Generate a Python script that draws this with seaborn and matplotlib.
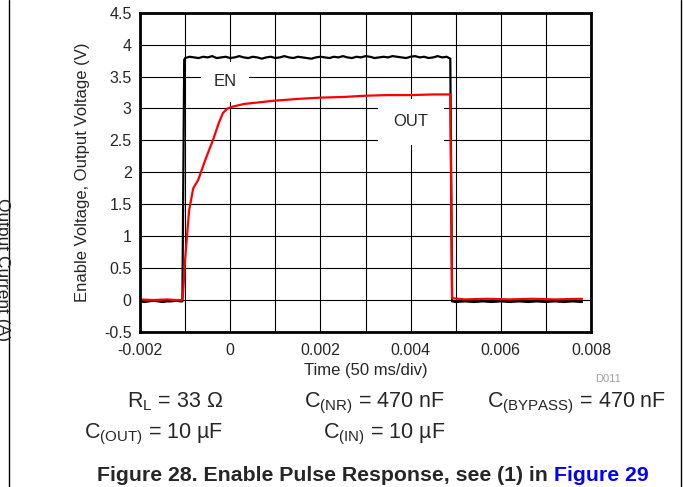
import numpy as np
import pandas as pd
import matplotlib.pyplot as plt
import seaborn as sns
from matplotlib.lines import Line2D

# -----------------------------
# Data
# -----------------------------

# EN pulse, volts
en_time = [-0.0020, -0.0019, -0.0018, -0.0017, -0.0016, -0.0015, -0.0014, -0.0013, -0.0012, -0.0011,
           -0.00106, -0.00102,
           -0.0010, -0.0009, -0.0008, -0.0007, -0.0006, -0.0005, -0.0004, -0.0003, -0.0002, -0.0001,
           0.0000, 0.0001, 0.0002, 0.0003, 0.0004, 0.0005, 0.0006, 0.0007, 0.0008, 0.0009,
           0.0010, 0.0011, 0.0012, 0.0013, 0.0014, 0.0015, 0.0016, 0.0017, 0.0018, 0.0019,
           0.0020, 0.0021, 0.0022, 0.0023, 0.0024, 0.0025, 0.0026, 0.0027, 0.0028, 0.0029,
           0.0030, 0.0031, 0.0032, 0.0033, 0.0034, 0.0035, 0.0036, 0.0037, 0.0038, 0.0039,
           0.0040, 0.0041, 0.0042, 0.0043, 0.0044, 0.0045, 0.0046, 0.0047, 0.0048,
           0.00488, 0.00492,
           0.0050, 0.0052, 0.0054, 0.0056, 0.0058, 0.0060, 0.0062, 0.0064, 0.0066, 0.0068,
           0.0070, 0.0072, 0.0074, 0.0076, 0.0078]
en_volt = [-0.02, -0.03, -0.02, -0.01, -0.02, -0.03, -0.02, -0.02, -0.01, -0.02,
           -0.02, 3.76,
           3.79, 3.81, 3.80, 3.79, 3.81, 3.80, 3.82, 3.79, 3.80, 3.81,
           3.79, 3.80, 3.82, 3.80, 3.79, 3.81, 3.80, 3.78, 3.80, 3.81,
           3.79, 3.80, 3.82, 3.80, 3.79, 3.81, 3.80, 3.79, 3.78, 3.80,
           3.81, 3.80, 3.79, 3.81, 3.80, 3.82, 3.80, 3.79, 3.81, 3.80,
           3.82, 3.81, 3.79, 3.80, 3.81, 3.80, 3.82, 3.81, 3.80, 3.79,
           3.81, 3.82, 3.80, 3.81, 3.79, 3.80, 3.82, 3.80, 3.81,
           3.78, -0.02,
           -0.03, -0.02, -0.03, -0.02, -0.03, -0.02, -0.03, -0.02, -0.03, -0.02,
           -0.03, -0.02, -0.03, -0.02, -0.03]

# OUT, volts
out_time = [-0.0020, -0.0017, -0.0014, -0.00120, -0.00107, -0.00105, -0.00100, -0.00096,
            -0.00091, -0.00082, -0.00071, -0.00055, -0.00038, -0.00025, -0.00016, -0.00006,
            0.00006, 0.0003, 0.00095, 0.0015, 0.0020, 0.0025, 0.0030, 0.0035, 0.0040,
            0.0045, 0.00488, 0.00492, 0.0052, 0.0057, 0.0062, 0.0067, 0.0072, 0.0078]
out_volt = [0.01, 0.0, 0.01, 0.0, 0.0, 0.05, 0.63, 0.99,
            1.41, 1.75, 1.88, 2.20, 2.51, 2.78, 2.93, 3.00,
            3.03, 3.07, 3.12, 3.15, 3.17, 3.18, 3.20, 3.21, 3.21,
            3.22, 3.22, 0.03, 0.01, 0.02, 0.01, 0.02, 0.01, 0.02]

x_ticks = [-0.002, 0, 0.002, 0.004, 0.006, 0.008]
x_tick_labels = ["-0.002", "0", "0.002", "0.004", "0.006", "0.008"]
x_grid = [-0.002, -0.001, 0, 0.001, 0.002, 0.003, 0.004, 0.005, 0.006, 0.007, 0.008]
y_ticks = [-0.5, 0, 0.5, 1, 1.5, 2, 2.5, 3, 3.5, 4, 4.5]
y_tick_labels = ["-0.5", "0", "0.5", "1", "1.5", "2", "2.5", "3", "3.5", "4", "4.5"]

en_df = pd.DataFrame({"Time": en_time, "Voltage": en_volt})
out_df = pd.DataFrame({"Time": out_time, "Voltage": out_volt})

# -----------------------------
# Plot
# -----------------------------
sns.set_style("white")
plt.rcParams["font.family"] = ["Liberation Sans", "DejaVu Sans"]
plt.rcParams["mathtext.fontset"] = "custom"
plt.rcParams["mathtext.rm"] = "Liberation Sans"
plt.rcParams["mathtext.it"] = "Liberation Sans:italic"

fig = plt.figure(figsize=(6.83, 4.87), dpi=100)
ax = fig.add_axes([140 / 683, 1 - 332 / 487, 451 / 683, 319.3 / 487])

sns.lineplot(data=en_df, x="Time", y="Voltage", ax=ax, color="black",
             linewidth=1.6, sort=False, estimator=None, zorder=3)
sns.lineplot(data=out_df, x="Time", y="Voltage", ax=ax, color="#ff0000",
             linewidth=1.6, sort=False, estimator=None, zorder=4)

ax.set_xlim(-0.002, 0.008)
ax.set_ylim(-0.5, 4.5)
ax.set_xticks(x_ticks)
ax.set_xticklabels(x_tick_labels)
ax.set_xticks(x_grid, minor=True)
ax.set_yticks(y_ticks)
ax.set_yticklabels(y_tick_labels)
ax.grid(True, which="both", color="black", linewidth=0.8, zorder=0)
ax.set_axisbelow(True)
ax.tick_params(which="both", length=0, labelsize=11.5)
ax.tick_params(axis="x", pad=8)
ax.tick_params(axis="y", pad=6)
for sp in ax.spines.values():
    sp.set_linewidth(2.0)
    sp.set_color("black")
    sp.set_zorder(5)

ax.set_xlabel("Time (50 ms/div)", fontsize=12)
ax.xaxis.set_label_coords(0.5, -(370 - 332) / 319.3)
ax.xaxis.label.set_va("center")
ax.set_ylabel("Enable Voltage, Output Voltage (V)", fontsize=12)
ax.yaxis.set_label_coords((83 - 140) / 451, 0.5)
ax.yaxis.label.set_va("center")

# curve labels on white patches
ax.text(-0.00012, 3.42, "EN", fontsize=12, ha="center", va="center", zorder=2,
        bbox=dict(boxstyle="square,pad=0.75", fc="white", ec="none"))
ax.text(0.00401, 2.79, "OUT", fontsize=12, ha="center", va="center", zorder=2,
        bbox=dict(boxstyle="square,pad=0.95", fc="white", ec="none"))

fig.text(608 / 683, 1 - 379 / 487, "D011", fontsize=8, color="#a0a0a0",
         ha="center", va="center")

# stray axis label from the dual-axis template, cut at the page edge
fig.text(2 / 683, 1 - 270 / 487, "Output Current (A)", fontsize=12.5, rotation=270,
         ha="center", va="center")

# page frame lines
fig.add_artist(Line2D([9 / 683, 9 / 683], [0, 1], color="black", linewidth=1.0))
fig.add_artist(Line2D([681 / 683, 681 / 683], [0, 1], color="black", linewidth=1.0))

# test conditions
cond_size = 15.5
row1 = 1 - 407 / 487
row2 = 1 - 438 / 487
fig.text(223 / 683, row1, r"R$_{\mathrm{L}}$ = 33 Ω", fontsize=cond_size, ha="right", va="baseline")
fig.text(445 / 683, row1, r"C$_{\mathrm{(NR)}}$ = 470 nF", fontsize=cond_size, ha="right", va="baseline")
fig.text(666 / 683, row1, r"C$_{\mathrm{(BYPASS)}}$ = 470 nF", fontsize=cond_size, ha="right", va="baseline")
fig.text(223 / 683, row2, r"C$_{\mathrm{(OUT)}}$ = 10 µF", fontsize=cond_size, ha="right", va="baseline")
fig.text(445 / 683, row2, r"C$_{\mathrm{(IN)}}$ = 10 µF", fontsize=cond_size, ha="right", va="baseline")

# caption, with the cross-reference in link blue
t1 = fig.text(97 / 683, 1 - 481 / 487, "Figure 28. Enable Pulse Response, see (1) in ",
              fontsize=15.3, fontweight="bold", ha="left", va="baseline")
ax.annotate("Figure 29", xy=(1, 0), xycoords=t1, fontsize=15.3, fontweight="bold",
            color="#0000ff", ha="left", va="bottom", annotation_clip=False)

fig.savefig("out.png", dpi=100)
